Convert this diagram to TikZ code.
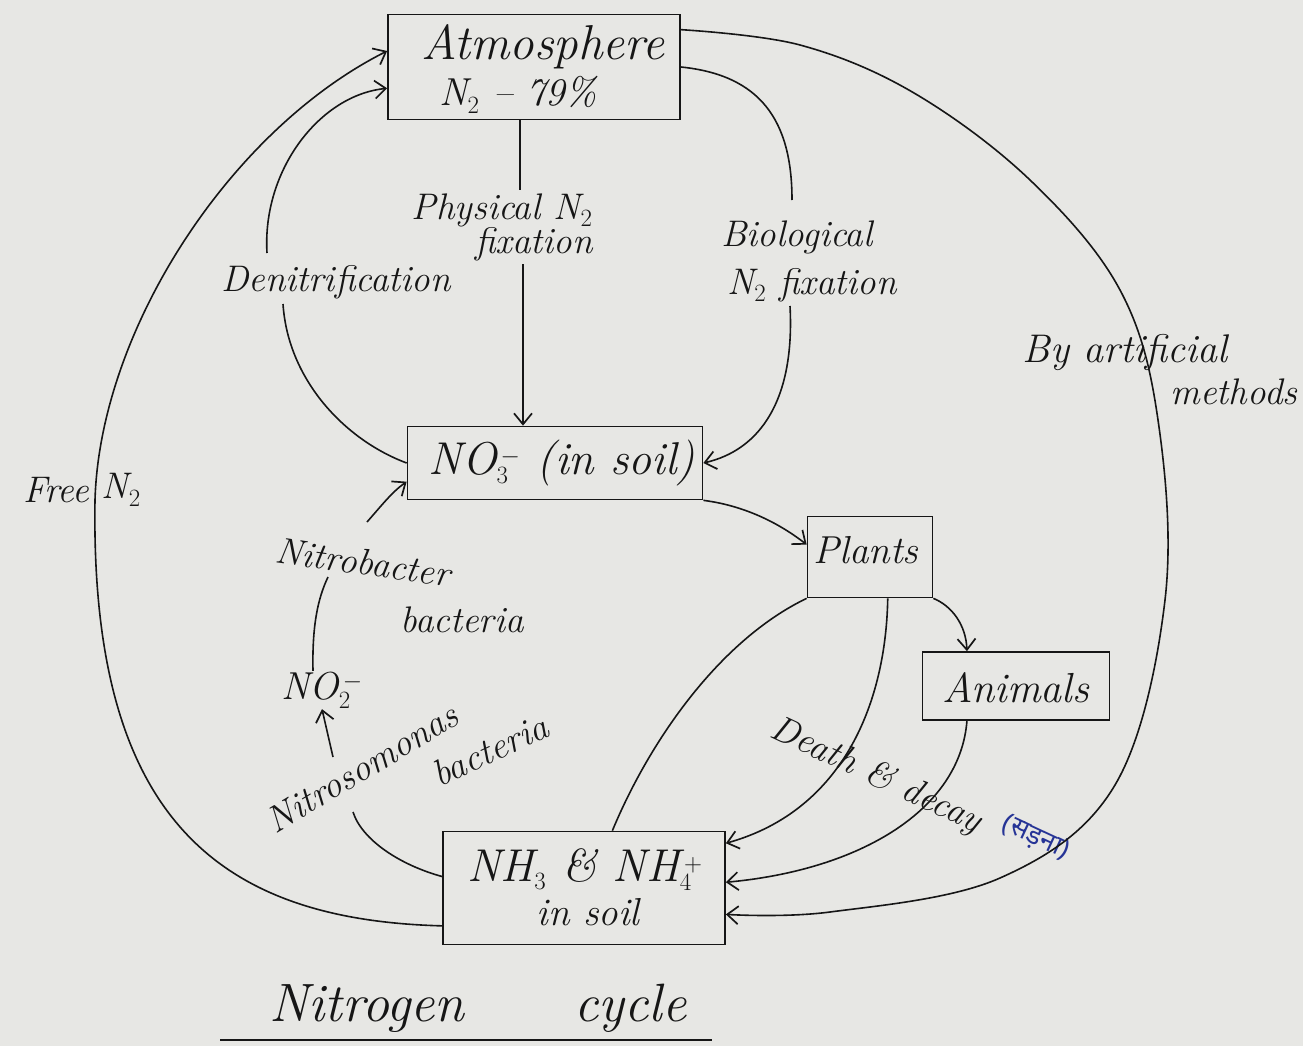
\documentclass[tikz,border=0pt]{standalone}
\usepackage{fontspec}
\newfontfamily\devfont[Script=Devanagari]{Noto Sans}
\usetikzlibrary{arrows.meta,calc}
\definecolor{paper}{RGB}{231,231,228}
\definecolor{ink}{RGB}{22,22,22}
\definecolor{bink}{RGB}{38,52,150}
\begin{document}
\begin{tikzpicture}[x=1pt,y=-1pt, line width=1.7pt, draw=ink, text=ink,
  >={Straight Barb[length=11pt,width=18pt,line width=1.7pt]},
  box/.style={draw, rectangle, inner sep=0pt},
  big/.style={font=\fontsize{46}{50}\selectfont\itshape, inner sep=0pt},
  mid/.style={font=\fontsize{39}{43}\selectfont\itshape, inner sep=0pt},
  lab/.style={font=\fontsize{37}{41}\selectfont\itshape, inner sep=0pt},
  conn/.style={draw=ink, line width=1.6pt},
]
\useasboundingbox[fill=paper] (0,0) rectangle (1303,1046);

% boxes
\node[box, minimum width=292pt, minimum height=105pt] (atm) at (534,67) {};
\node[font=\fontsize{49}{53}\selectfont\itshape, inner sep=0pt] (atmT) at (543,47) {Atmosphere};
\node[mid] (atmN) at (518,95) {N$_2$ -- 79\%};

\node[box, minimum width=295pt, minimum height=73pt] (no3) at (555,463) {};
\node[big] (no3T) at (562,463) {NO$_3^{\,-}$ (in soil)};

\node[box, minimum width=125pt, minimum height=81pt] (plants) at (870,557) {};
\node[mid] (plantsT) at (866,550) {Plants};

\node[box, minimum width=187pt, minimum height=68pt] (animals) at (1016,686) {};
\node[font=\fontsize{42}{46}\selectfont\itshape, inner sep=0pt] (animalsT) at (1016,688) {Animals};

\node[box, minimum width=282pt, minimum height=113pt] (nh3) at (584,888) {};
\node[big] (nh3T) at (585,870) {NH$_3$ \& NH$_4^{\,+}$};
\node[mid] (nh3S) at (588,912) {in soil};

% labels
\node[lab] (phys1) at (502,210) {Physical N$_2$};
\node[lab] (phys2) at (534,244) {fixation};
\node[lab] (bio1) at (797,237) {Biological};
\node[lab] (bio2) at (812,285) {N$_2$ fixation};
\node[lab] (denit) at (336,282) {Denitrification};
\node[lab, anchor=east] (free) at (90,490) {Free};
\node[lab, anchor=west] (freeN) at (101,490) {N$_2$};
\node[lab, rotate=-8] (nb1T) at (363,562) {Nitrobacter};
\node[lab] (nb2T) at (462,620) {bacteria};
\node[mid] (no2) at (322,690) {NO$_2^{\,-}$};
\node[lab, rotate=31] (ns1T) at (362,768) {Nitrosomonas};
\node[lab, rotate=25] (ns2T) at (490,750) {bacteria};
\node[lab, rotate=-25] (death) at (876,776) {Death \& decay};
\node[font=\fontsize{27}{30}\selectfont\devfont, text=bink, rotate=-25, inner sep=0pt] (hindi) at (1036,838) {(सड़ना)};
\node[font=\fontsize{40}{44}\selectfont\itshape, inner sep=0pt] (art1) at (1125,352) {By artificial};
\node[lab] (art2) at (1234,392) {methods};
\node[font=\fontsize{54}{58}\selectfont\itshape, inner sep=0pt] (title) at (478,1008) {Nitrogen\hspace{110pt}cycle};
\coordinate (ulA) at (220,1040);
\coordinate (ulB) at (712,1040);
\draw (ulA) -- (ulB);

% helper coordinates
\coordinate (p1) at (520,190);
\coordinate (p2) at (523,264);
\coordinate (bT) at (792,200);
\coordinate (bB) at (790,306);
\coordinate (dn1) at (283,304);
\coordinate (dn2) at (267,253);
\coordinate (fm) at (95,500);
\coordinate (ns1) at (353,812);
\coordinate (ns2) at (333,757);
\coordinate (nb1) at (328,577);
\coordinate (nb2) at (367,522);
\coordinate (atmL1) at ($(atm.north west)!0.35!(atm.south west)$);
\coordinate (atmL2) at ($(atm.north west)!0.7!(atm.south west)$);
\coordinate (artS) at ($(atm.north east)!0.15!(atm.south east)$);
\coordinate (artE) at ($(nh3.north east)!0.73!(nh3.south east)$);
\coordinate (nhR1) at ($(nh3.north east)!0.11!(nh3.south east)$);
\coordinate (nhR2) at ($(nh3.north east)!0.45!(nh3.south east)$);
\coordinate (nhL1) at ($(nh3.north west)!0.40!(nh3.south west)$);
\coordinate (nhL2) at ($(nh3.north west)!0.83!(nh3.south west)$);
\coordinate (nhTop) at ($(nh3.north west)!0.6!(nh3.north east)$);
\coordinate (noL) at ($(no3.north west)!0.75!(no3.south west)$);
\coordinate (plL) at ($(plants.north west)!0.35!(plants.south west)$);
\coordinate (plB) at ($(plants.south west)!0.64!(plants.south east)$);
\coordinate (anT) at ($(animals.north west)!0.24!(animals.north east)$);
\coordinate (anB) at ($(animals.south west)!0.24!(animals.south east)$);

% physical fixation
\draw[conn] (atm.south -| p1) -- (p1);
\draw[conn,->] (p2) -- (no3.north -| p2);
% biological fixation
\draw[conn] (atm.east) .. controls (760,75) and (792,120) .. (bT);
\draw[conn,->] (bB) .. controls (795,400) and (760,450) .. (no3.east);
% denitrification
\draw[conn] (no3.west) .. controls (345,440) and (288,380) .. (dn1);
\draw[conn,->] (dn2) .. controls (262,170) and (320,95) .. (atmL2);
% free N2
\draw[conn,->] (nhL2) .. controls (220,920) and (90,820) .. (fm) .. controls (100,330) and (230,130) .. (atmL1);
% nitrosomonas
\draw[conn] (nhL1) .. controls (400,865) and (362,840) .. (ns1);
\draw[conn,->] (ns2) -- (no2.south);
% nitrobacter
\draw[conn] ([xshift=-9pt]no2.north) .. controls (312,625) and (318,598) .. (nb1);
\draw[conn,->] (nb2) .. controls (382,505) and (392,492) .. (noL);
% NO3 to plants
\draw[conn,->] (no3.south east) .. controls (740,505) and (775,520) .. (plL);
% NH3 to plants
\draw[conn] (nhTop) .. controls (650,740) and (720,640) .. (plants.south west);
% plants to animals
\draw[conn,->] (plants.south east) .. controls (952,606) and (966,625) .. (anT);
% death and decay
\draw[conn,->] (plB) .. controls (886,700) and (845,810) .. (nhR1);
\draw[conn,->] (anB) .. controls (960,810) and (860,870) .. (nhR2);
% artificial
\draw[conn,->] plot[smooth, tension=0.6] coordinates {(artS) (800,45) (914,93) (1030,180) (1120,290) (1158,420) (1165,600) (1115,785) (1000,878) (830,912) (artE)};
\end{tikzpicture}
\end{document}
